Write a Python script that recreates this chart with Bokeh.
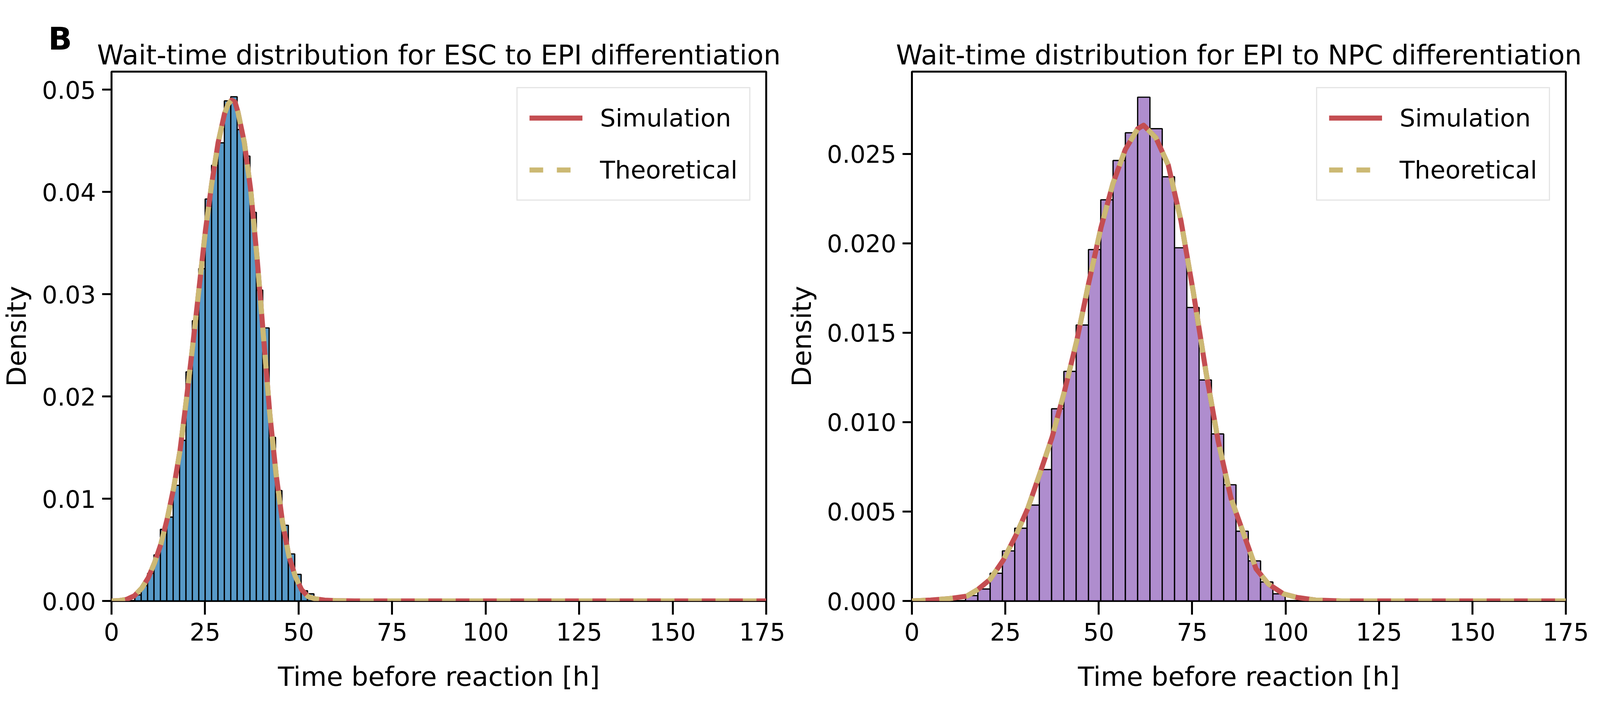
from bokeh.plotting import figure
from bokeh.models import (Range1d, FixedTicker, PrintfTickFormatter,
                          Legend, LegendItem, Title)
from bokeh.layouts import row
from bokeh.embed import file_html
from bokeh.resources import INLINE

FONT = "DejaVu Sans"

# ESC -> EPI: histogram bin edges and densities
esc_edges = [6.22, 7.93, 9.64, 11.35, 13.06, 14.77, 16.48, 18.19, 19.90, 21.61,
             23.32, 25.03, 26.74, 28.45, 30.16, 31.87, 33.58, 35.29, 37.00, 38.71,
             40.42, 42.13, 43.84, 45.55, 47.26, 48.97, 50.68, 52.39, 54.10]
esc_density = [0.0006, 0.0015, 0.0027, 0.0045, 0.0070, 0.0082, 0.0113, 0.0157,
               0.0224, 0.0274, 0.0325, 0.0393, 0.0426, 0.0448, 0.0489, 0.0493,
               0.0461, 0.0435, 0.0380, 0.0304, 0.0267, 0.0160, 0.0108, 0.0074,
               0.0046, 0.0026, 0.0010, 0.0007]

# ESC -> EPI: curves (simulation and theory coincide at this resolution)
esc_t = [0, 2, 4, 6.1, 8.1, 9.8, 11.5, 13.2, 14.9, 16.6, 18.3, 20.0, 21.7, 23.4,
         25.1, 26.8, 28.5, 30.2, 31.2, 32.1, 33.0, 33.8, 35.5, 37.2, 38.9, 40.6,
         42.3, 44.0, 45.7, 47.4, 49.1, 50.8, 52.5, 54.5, 57, 60, 65, 175]
esc_sim = [0, 0.00003, 0.00015, 0.0005, 0.00126, 0.00225, 0.00374, 0.00557,
           0.00805, 0.01103, 0.01468, 0.01965, 0.02495, 0.03058, 0.03621, 0.04085,
           0.04483, 0.04764, 0.0486, 0.04897, 0.0488, 0.0478, 0.04482, 0.04019,
           0.03356, 0.02594, 0.01832, 0.01236, 0.00772, 0.00441, 0.00242, 0.0011,
           0.00044, 0.0002, 0.00008, 0.00003, 0, 0]
esc_theo = list(esc_sim)

# EPI -> NPC
npc_edges = [14.35, 17.64, 20.93, 24.22, 27.51, 30.80, 34.09, 37.38, 40.67, 43.96,
             47.25, 50.54, 53.83, 57.12, 60.41, 63.70, 66.99, 70.28, 73.57, 76.86,
             80.15, 83.44, 86.73, 90.02, 93.31, 96.60, 99.89]
npc_density = [0.0003, 0.00067, 0.00155, 0.0028, 0.00407, 0.00536, 0.00735,
               0.01075, 0.01284, 0.01543, 0.01965, 0.02243, 0.02463, 0.02618,
               0.02817, 0.02641, 0.02372, 0.01975, 0.01641, 0.01236, 0.00934,
               0.0065, 0.0039, 0.00224, 0.00106, 0.0004]

npc_t = [0, 5, 10, 14.7, 17.7, 20.9, 23.4, 24.5, 27.8, 31.0, 34.3, 37.5, 40.8,
         44.1, 47.3, 50.6, 53.8, 57.1, 60.4, 62.0, 65.3, 68.6, 72.0, 75.3, 78.7,
         82.0, 85.4, 88.7, 92.1, 95.4, 99.4, 103, 108, 115, 175]
npc_sim = [0, 0.00005, 0.00013, 0.00027, 0.00065, 0.0012, 0.00196, 0.0023,
           0.00366, 0.00517, 0.00716, 0.00915, 0.0117, 0.01454, 0.01777, 0.02088,
           0.02334, 0.02524, 0.0264, 0.0266, 0.0259, 0.02438, 0.02126, 0.01728,
           0.0128, 0.0089, 0.00574, 0.0038, 0.0018, 0.00095, 0.0004, 0.0002,
           0.00005, 0, 0]
npc_theo = list(npc_sim)

x_ticks = [0, 25, 50, 75, 100, 125, 150, 175]
esc_yticks = [0, 0.01, 0.02, 0.03, 0.04, 0.05]
npc_yticks = [0, 0.005, 0.01, 0.015, 0.02, 0.025]

SIM_COLOR = "#c44e52"
THEO_COLOR = "#ccb974"


def style_title(t):
    t.text_font = FONT
    t.text_font_size = "69px"
    t.text_font_style = "normal"
    t.text_color = "black"
    t.align = "center"
    t.standoff = 6


def make_panel(title, edges, density, fill, t, sim, theo, y_top, yticks, yfmt,
               frame_width, border_left, border_right, letter=None):
    p = figure(frame_width=frame_width, frame_height=1356,
               min_border_left=border_left, min_border_right=border_right,
               min_border_top=183, min_border_bottom=290,
               x_range=Range1d(0, 175), y_range=Range1d(0, y_top),
               tools="", toolbar_location=None, output_backend="svg")
    p.background_fill_color = "white"
    p.border_fill_color = "white"
    p.outline_line_color = "black"
    p.outline_line_width = 5
    p.xgrid.visible = False
    p.ygrid.visible = False

    if letter is None:
        p.title.text = title
        style_title(p.title)
    else:
        # the plot's own title sits outermost: use it for the panel letter,
        # pulled down beside the real title, which goes next to the frame
        p.title.text = letter
        p.title.text_font = FONT
        p.title.text_font_size = "80px"
        p.title.text_font_style = "bold"
        p.title.text_color = "black"
        p.title.align = "left"
        p.title.offset = -162
        p.title.standoff = -100
        main = Title(text=title)
        style_title(main)
        p.add_layout(main, "above")

    p.quad(left=edges[:-1], right=edges[1:], bottom=0, top=density,
           fill_color=fill, fill_alpha=0.75, line_color="black", line_width=3.2)

    r_sim = p.line(t, sim, line_color=SIM_COLOR, line_width=13, line_join="round")
    r_theo = p.line(t, theo, line_color=THEO_COLOR, line_width=13,
                    line_dash="35 35")

    for ax in (p.xaxis, p.yaxis):
        ax.axis_line_color = None
        ax.major_tick_in = 0
        ax.major_tick_line_width = 5
        ax.major_tick_line_color = "black"
        ax.minor_tick_line_color = None
        ax.major_label_text_font = FONT
        ax.major_label_text_font_size = "62px"
        ax.major_label_text_color = "black"
        ax.axis_label_text_font = FONT
        ax.axis_label_text_font_size = "68px"
        ax.axis_label_text_font_style = "normal"
        ax.axis_label_text_color = "black"

    p.xaxis.ticker = FixedTicker(ticks=x_ticks)
    p.xaxis.axis_label = "Time before reaction [h]"
    p.xaxis.major_tick_out = 35
    p.xaxis.major_label_standoff = 20
    p.xaxis.axis_label_standoff = 50

    p.yaxis.ticker = FixedTicker(ticks=yticks)
    p.yaxis.formatter = PrintfTickFormatter(format=yfmt)
    p.yaxis.axis_label = "Density"
    p.yaxis.major_tick_out = 24
    p.yaxis.major_label_standoff = 16
    p.yaxis.axis_label_standoff = 22

    legend = Legend(items=[LegendItem(label="Simulation", renderers=[r_sim]),
                           LegendItem(label="Theoretical", renderers=[r_theo])],
                    location="top_right")
    legend.margin = 40
    legend.padding = 30
    legend.spacing = 41
    legend.glyph_width = 136
    legend.glyph_height = 92
    legend.label_height = 92
    legend.label_standoff = 45
    legend.label_text_font = FONT
    legend.label_text_font_size = "63px"
    legend.label_text_color = "black"
    legend.border_line_color = "#cccccc"
    legend.border_line_width = 3
    legend.background_fill_alpha = 0.8
    p.add_layout(legend)
    return p


p1 = make_panel("Wait-time distribution for ESC to EPI differentiation",
                esc_edges, esc_density, "#1f77b4", esc_t, esc_sim, esc_theo,
                0.05176, esc_yticks, "%.2f", 1676, 283, 49, letter="B")
p2 = make_panel("Wait-time distribution for EPI to NPC differentiation",
                npc_edges, npc_density, "#9467bd", npc_t, npc_sim, npc_theo,
                0.0296, npc_yticks, "%.3f", 1674, 316, 80)

layout = row(p1, p2)
open("out.html", "w").write(file_html(layout, INLINE))
